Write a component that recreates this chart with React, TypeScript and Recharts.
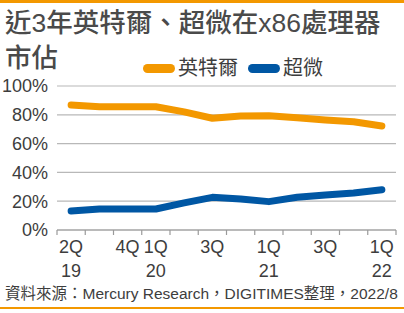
import React from 'react';
import { LineChart, Line, XAxis, YAxis, CartesianGrid } from 'recharts';

// quarters 2Q19 .. 1Q22
const quarters = ['2Q19', '3Q19', '4Q19', '1Q20', '2Q20', '3Q20', '4Q20', '1Q21', '2Q21', '3Q21', '4Q21', '1Q22'];
const intelShare = [86.8, 85.6, 85.6, 85.6, 82.0, 77.6, 79.2, 79.4, 78.0, 76.4, 75.2, 72.2];
const amdShare = [13.2, 14.6, 14.6, 14.6, 18.8, 22.7, 21.5, 19.7, 22.7, 24.3, 25.7, 28.0];

const yTicks = [0, 20, 40, 60, 80, 100];
const labelIndex = [0, 2, 3, 5, 7, 9, 11];
const labelTop = ['2Q', '4Q', '1Q', '3Q', '1Q', '3Q', '1Q'];
const labelBottom = ['19', '', '20', '', '21', '', '22'];

const seriesNames = ['英特爾', '超微'];
const colors = ['#F39800', '#0057A4'];

const FONT = '"Liberation Sans", "Noto Sans CJK TC", sans-serif';
const TEXT = '#3d3d3d';

const data = quarters.map((q, i) => ({ i, q, intel: intelShare[i], amd: amdShare[i] }));
const boundaryTicks = quarters.map((_, i) => i - 0.5).concat([quarters.length - 0.5]);

const QuarterTick = (props: any) => {
    const { x, y, payload } = props;
    const k = labelIndex.indexOf(payload.value);
    if (k < 0) return null;
    return (
        <text x={x} y={y} textAnchor="middle" fontSize={18} fill={TEXT} fontFamily={FONT}>
            <tspan x={x} dy={18}>{labelTop[k]}</tspan>
            <tspan x={x} dy={24}>{labelBottom[k]}</tspan>
        </text>
    );
};

const LegendBox = () => (
    <div style={{ display: 'flex', alignItems: 'center', fontFamily: FONT, fontSize: 20, color: TEXT }}>
        {seriesNames.map((name, idx) => (
            <div key={name} style={{ display: 'flex', alignItems: 'center', marginRight: 10 }}>
                <div style={{ width: 32, height: 9, borderRadius: 5, background: colors[idx], marginRight: 3 }} />
                <span style={{ lineHeight: '24px' }}>{name}</span>
            </div>
        ))}
    </div>
);

export default function App() {
    return (
        <div style={{ position: 'absolute', left: 0, top: 0, width: 404, height: 313, background: '#fff', overflow: 'hidden' }}>
            <div style={{ position: 'absolute', left: 0, top: 0, width: 404, height: 3, background: colors[0] }} />
            <div
                style={{
                    position: 'absolute',
                    left: 5,
                    top: 6,
                    fontFamily: FONT,
                    fontSize: 26.5,
                    fontWeight: 500,
                    lineHeight: '35px',
                    color: '#4a4a4a',
                    whiteSpace: 'nowrap',
                }}
            >
                近3年英特爾、超微在x86處理器
                <br />
                市佔
            </div>
            <div style={{ position: 'absolute', left: 0, top: 0 }}>
                <LineChart width={404} height={313} data={data} margin={{ top: 86, right: 8, bottom: 28, left: 0 }}>
                    <CartesianGrid xAxisId="grid" vertical={false} stroke="#b8b8b8" strokeWidth={1.2} />
                    <XAxis
                        xAxisId="grid"
                        type="number"
                        dataKey="i"
                        domain={[-0.5, quarters.length - 0.5]}
                        ticks={boundaryTicks}
                        interval={0}
                        tickFormatter={() => ''}
                        tickSize={5}
                        height={5}
                        stroke="#9a9a9a"
                        strokeWidth={1.2}
                    />
                    <XAxis
                        xAxisId="lab"
                        type="number"
                        dataKey="i"
                        domain={[-0.5, quarters.length - 0.5]}
                        ticks={labelIndex}
                        interval={0}
                        axisLine={false}
                        tickLine={false}
                        tickSize={0}
                        tickMargin={0}
                        tick={<QuarterTick />}
                        height={50}
                    />
                    <YAxis
                        domain={[0, 100]}
                        ticks={yTicks}
                        interval={0}
                        width={57}
                        axisLine={false}
                        tickLine={false}
                        tickSize={0}
                        tickMargin={9}
                        tickFormatter={(v) => `${v}%`}
                        tick={{ fontSize: 18, fill: TEXT, fontFamily: FONT }}
                    />
                    <Line
                        xAxisId="grid"
                        dataKey="intel"
                        name={seriesNames[0]}
                        stroke={colors[0]}
                        strokeWidth={7}
                        strokeLinecap="round"
                        strokeLinejoin="round"
                        dot={false}
                        isAnimationActive={false}
                    />
                    <Line
                        xAxisId="grid"
                        dataKey="amd"
                        name={seriesNames[1]}
                        stroke={colors[1]}
                        strokeWidth={7}
                        strokeLinecap="round"
                        strokeLinejoin="round"
                        dot={false}
                        isAnimationActive={false}
                    />
                </LineChart>
            </div>
            <div style={{ position: 'absolute', left: 143, top: 56 }}>
                <LegendBox />
            </div>
            <div
                style={{
                    position: 'absolute',
                    left: 5,
                    top: 284,
                    fontFamily: FONT,
                    fontSize: 15.5,
                    color: TEXT,
                    whiteSpace: 'nowrap',
                    lineHeight: '20px',
                }}
            >
                資料來源：Mercury Research，DIGITIMES整理，2022/8
            </div>
            <div style={{ position: 'absolute', left: 0, top: 307, width: 404, height: 2, background: colors[0] }} />
        </div>
    );
}
